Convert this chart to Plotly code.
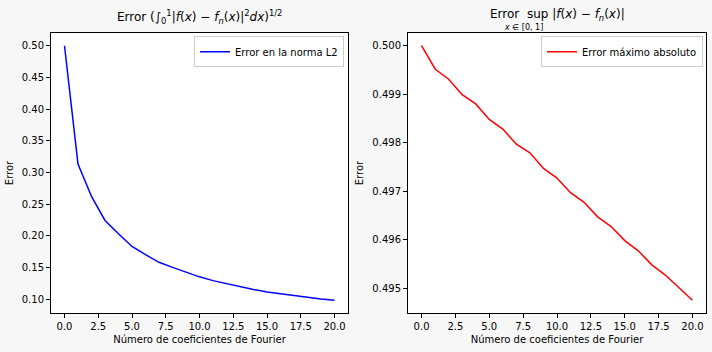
import plotly.graph_objects as go

n_coef = list(range(21))
error_l2 = [0.500, 0.313, 0.262, 0.224, 0.203, 0.183, 0.170, 0.158, 0.150, 0.142,
            0.135, 0.129, 0.124, 0.119, 0.115, 0.111, 0.108, 0.105, 0.102, 0.100, 0.098]
error_max = [0.50000, 0.49952, 0.49931, 0.49899, 0.49880, 0.49848, 0.49828, 0.49797,
             0.49779, 0.49747, 0.49727, 0.49697, 0.49677, 0.49647, 0.49627, 0.49598,
             0.49577, 0.49548, 0.49527, 0.49500, 0.49475]
x_ticks = [0.0, 2.5, 5.0, 7.5, 10.0, 12.5, 15.0, 17.5, 20.0]
y1_ticks = [0.10, 0.15, 0.20, 0.25, 0.30, 0.35, 0.40, 0.45, 0.50]
y2_ticks = [0.495, 0.496, 0.497, 0.498, 0.499, 0.500]

FONT = "DejaVu Sans"
W, H = 712, 352
L, R, T, B = 51, 6, 33, 39
pw = W - L - R
ph = H - T - B

def px2x(p):
    return (p - L) / pw

fig = go.Figure()
fig.add_trace(go.Scatter(x=n_coef, y=error_l2, mode="lines", name="Error en la norma L2",
                         line=dict(color="#0000ff", width=1.5), xaxis="x", yaxis="y",
                         legend="legend"))
fig.add_trace(go.Scatter(x=n_coef, y=error_max, mode="lines", name="Error máximo absoluto",
                         line=dict(color="#ff0000", width=1.5), xaxis="x2", yaxis="y2",
                         legend="legend2"))

def rng(vals):
    lo, hi = min(vals), max(vals)
    m = (hi - lo) * 0.05
    return [lo - m, hi + m]

axis_common = dict(showline=True, mirror=True, linecolor="black", linewidth=1,
                   ticks="outside", ticklen=4, tickcolor="black", showgrid=False,
                   zeroline=False, tickfont=dict(size=10, color="black", family=FONT))

xd1 = [0, px2x(348)]
xd2 = [px2x(408), 1]
fig.update_layout(
    width=W, height=H,
    margin=dict(l=L, r=R, t=T, b=B),
    paper_bgcolor="#f7f7f7", plot_bgcolor="white",
    font=dict(family=FONT, size=10, color="black"),
    xaxis=dict(domain=xd1, range=[-1, 21], tickvals=x_ticks,
               ticktext=[f"{v:.1f}" for v in x_ticks], anchor="y",
               title=dict(text="Número de coeficientes de Fourier", font=dict(size=10), standoff=4),
               **axis_common),
    yaxis=dict(domain=[0, 1], range=rng(error_l2), tickvals=y1_ticks,
               ticktext=[f"{v:.2f}" for v in y1_ticks], anchor="x",
               title=dict(text="Error", font=dict(size=10), standoff=6), **axis_common),
    xaxis2=dict(domain=xd2, range=[-1, 21], tickvals=x_ticks,
                ticktext=[f"{v:.1f}" for v in x_ticks], anchor="y2",
                title=dict(text="Número de coeficientes de Fourier", font=dict(size=10), standoff=4),
                **axis_common),
    yaxis2=dict(domain=[0, 1], range=rng(error_max), tickvals=y2_ticks,
                ticktext=[f"{v:.3f}" for v in y2_ticks], anchor="x2",
                title=dict(text="Error", font=dict(size=10), standoff=6), **axis_common),
    legend=dict(x=px2x(344), y=0.988, xanchor="right", yanchor="top",
                bgcolor="rgba(255,255,255,0.8)", bordercolor="#cccccc", borderwidth=1,
                font=dict(size=10), itemwidth=30),
    legend2=dict(x=px2x(703), y=0.988, xanchor="right", yanchor="top",
                 bgcolor="rgba(255,255,255,0.8)", bordercolor="#cccccc", borderwidth=1,
                 font=dict(size=10), itemwidth=30),
    showlegend=True,
)

title1 = ("Error (∫<sub>0</sub><sup>1</sup>|<i>f</i>(<i>x</i>) − <i>f<sub>n</sub></i>(<i>x</i>)|"
          "<sup>2</sup><i>dx</i>)<sup>1/2</sup>")
title2 = "Error  sup |<i>f</i>(<i>x</i>) − <i>f<sub>n</sub></i>(<i>x</i>)|"
fig.add_annotation(text=title1, xref="paper", yref="paper", x=(xd1[0] + xd1[1]) / 2,
                   y=1 + 5 / ph, xanchor="center", yanchor="bottom", showarrow=False,
                   font=dict(size=12, family=FONT))
fig.add_annotation(text=title2, xref="paper", yref="paper", x=(xd2[0] + xd2[1]) / 2,
                   y=1 + 8 / ph, xanchor="center", yanchor="bottom", showarrow=False,
                   font=dict(size=12, family=FONT))
fig.add_annotation(text="<i>x</i> ∈ [0, 1]", xref="paper", yref="paper",
                   x=px2x(523), y=1 - 1 / ph, xanchor="center", yanchor="bottom",
                   showarrow=False, font=dict(size=8, family=FONT))

fig.write_html("out.html")
